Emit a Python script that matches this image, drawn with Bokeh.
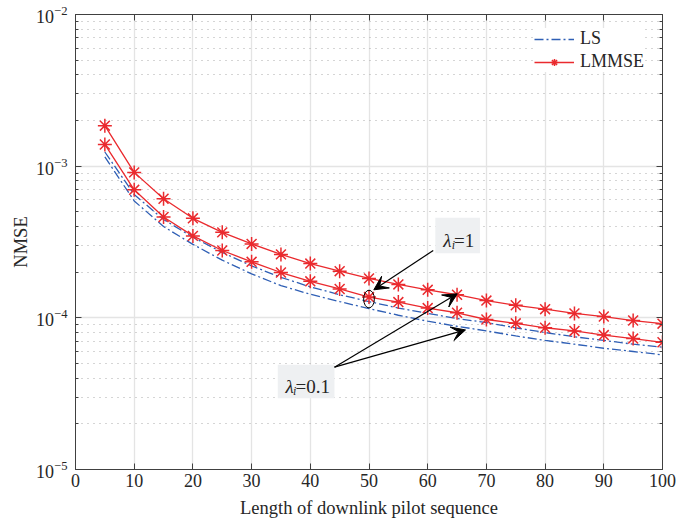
from bokeh.plotting import figure
from bokeh.models import (FixedTicker, LogAxis, LinearAxis, Legend, LegendItem,
                          Arrow, VeeHead, Label, BoxAnnotation, CustomJSTickFormatter)
from bokeh.embed import file_html
from bokeh.resources import INLINE

# ---- data ----
pilot_len = [5, 10, 15, 20, 25, 30, 35, 40, 45, 50, 55, 60, 65, 70, 75, 80, 85, 90, 95, 100]

lmmse_lam1 = [1.85e-3, 9.1e-4, 6.1e-4, 4.53e-4, 3.66e-4, 3.07e-4, 2.62e-4, 2.28e-4, 2.03e-4, 1.82e-4,
              1.66e-4, 1.53e-4, 1.42e-4, 1.30e-4, 1.21e-4, 1.14e-4, 1.07e-4, 1.02e-4, 9.6e-5, 9.15e-5]
lmmse_lam01 = [1.39e-3, 6.98e-4, 4.62e-4, 3.47e-4, 2.78e-4, 2.34e-4, 1.99e-4, 1.74e-4, 1.55e-4, 1.37e-4,
               1.27e-4, 1.16e-4, 1.08e-4, 9.75e-5, 9.2e-5, 8.6e-5, 8.2e-5, 7.7e-5, 7.3e-5, 6.9e-5]
ls_lam1 = [1.24e-3, 6.5e-4, 4.45e-4, 3.4e-4, 2.7e-4, 2.2e-4, 1.85e-4, 1.6e-4, 1.42e-4, 1.28e-4,
           1.16e-4, 1.07e-4, 9.9e-5, 9.3e-5, 8.6e-5, 8.0e-5, 7.5e-5, 7.1e-5, 6.7e-5, 6.4e-5]
ls_lam01 = [1.15e-3, 5.9e-4, 4.0e-4, 3.05e-4, 2.4e-4, 1.95e-4, 1.63e-4, 1.43e-4, 1.28e-4, 1.15e-4,
            1.04e-4, 9.5e-5, 8.8e-5, 8.2e-5, 7.6e-5, 7.1e-5, 6.7e-5, 6.3e-5, 6.0e-5, 5.7e-5]

x_ticks = [0, 10, 20, 30, 40, 50, 60, 70, 80, 90, 100]
y_ticks = [1e-5, 1e-4, 1e-3, 1e-2]
y_minor = [m * 10.0 ** e for e in (-5, -4, -3) for m in range(2, 10)]

series_labels = ["LS", "LMMSE"]
ann_lam1 = "=1"
ann_lam01 = "=0.1"

# ---- style ----
FONT = "Liberation Serif"
BLUE = "#2f5fb5"
RED = "#ea2a2e"
DARK = "#404040"
TXT = "#262626"

p = figure(width=683, height=527, y_axis_type="log", x_range=(0, 100), y_range=(1e-5, 1e-2),
           output_backend="svg", toolbar_location=None,
           min_border_left=75, min_border_right=21, min_border_top=14, min_border_bottom=58)
p.background_fill_color = "white"
p.border_fill_color = "white"
p.outline_line_color = DARK
p.outline_line_width = 1

xt = FixedTicker(ticks=x_ticks, minor_ticks=[])
yt = FixedTicker(ticks=y_ticks, minor_ticks=y_minor)
p.xaxis.ticker = xt
p.yaxis.ticker = yt

for ax in (p.xaxis[0], p.yaxis[0]):
    ax.axis_line_color = DARK
    ax.major_tick_line_color = DARK
    ax.minor_tick_line_color = DARK
    ax.major_tick_in = 6
    ax.major_tick_out = 0
    ax.minor_tick_out = 0
    ax.major_label_text_font = FONT
    ax.major_label_text_font_size = "18px"
    ax.major_label_text_color = TXT
    ax.axis_label_text_font = FONT
    ax.axis_label_text_font_size = "18.5px"
    ax.axis_label_text_font_style = "normal"
    ax.axis_label_text_color = TXT

p.xaxis.minor_tick_in = 0
p.yaxis.minor_tick_in = 3
p.xaxis.major_label_standoff = 4
p.yaxis.major_label_standoff = 8
p.xaxis.axis_label = "Length of downlink pilot sequence"
p.yaxis.axis_label = "NMSE"
p.xaxis.axis_label_standoff = 8
p.yaxis.axis_label_standoff = 2

right_ax = LogAxis(ticker=yt, formatter=CustomJSTickFormatter(code="return ''"), major_label_standoff=0,
                   major_label_text_font_size="0px",
                   axis_line_color=DARK, major_tick_line_color=DARK, minor_tick_line_color=DARK,
                   major_tick_in=6, major_tick_out=0, minor_tick_in=3, minor_tick_out=0)
top_ax = LinearAxis(ticker=xt, formatter=CustomJSTickFormatter(code="return ''"), major_label_standoff=0,
                    major_label_text_font_size="0px",
                    axis_line_color=DARK, major_tick_line_color=DARK,
                    major_tick_in=6, major_tick_out=0, minor_tick_in=0, minor_tick_out=0)
p.add_layout(right_ax, "right")
p.add_layout(top_ax, "above")

p.xgrid.grid_line_color = "#e4e4e4"
p.xgrid.grid_line_width = 1.3
p.ygrid.grid_line_color = "#e4e4e4"
p.ygrid.grid_line_width = 1.3
p.ygrid.minor_grid_line_color = "#aaaaaa"
p.ygrid.minor_grid_line_dash = "1 5"
p.ygrid.minor_grid_line_width = 1.2

# ---- series ----
r_ls1 = p.line(pilot_len, ls_lam1, line_color=BLUE, line_width=1.3, line_dash="9 3 2 3")
p.line(pilot_len, ls_lam01, line_color=BLUE, line_width=1.3, line_dash="9 3 2 3")
r_lm_line = p.line(pilot_len, lmmse_lam1, line_color=RED, line_width=1.3)
r_lm_pts = p.scatter(pilot_len, lmmse_lam1, marker="asterisk", size=14, line_color=RED, line_width=1.5)
p.line(pilot_len, lmmse_lam01, line_color=RED, line_width=1.3)
p.scatter(pilot_len, lmmse_lam01, marker="asterisk", size=14, line_color=RED, line_width=1.5)

legend = Legend(items=[LegendItem(label=series_labels[0], renderers=[r_ls1]),
                       LegendItem(label=series_labels[1], renderers=[r_lm_line, r_lm_pts])],
                location=(459, 397))
legend.label_text_font = FONT
legend.label_text_font_size = "18px"
legend.label_text_color = TXT
legend.glyph_width = 40
legend.glyph_height = 18
legend.label_height = 18
legend.label_standoff = 6
legend.spacing = 2
legend.padding = 6
legend.margin = 0
legend.border_line_color = None
legend.background_fill_alpha = 1
p.add_layout(legend)

# ---- annotations ----
BOXC = "#eef0f2"
p.add_layout(BoxAnnotation(left=61.3, right=68.9, bottom=2.67e-4, top=4.57e-4,
                           fill_color=BOXC, fill_alpha=1, line_color=None))
p.add_layout(BoxAnnotation(left=34.46, right=44.12, bottom=2.95e-5, top=4.90e-5,
                           fill_color=BOXC, fill_alpha=1, line_color=None))

def lam_label(xl, xs, xr, yb, ys, rest):
    p.add_layout(Label(x=xl, y=yb, text="λ", text_font=FONT, text_font_style="italic",
                       text_font_size="19px", text_color=TXT, text_baseline="alphabetic"))
    p.add_layout(Label(x=xs, y=ys, text="i", text_font=FONT, text_font_style="italic",
                       text_font_size="12px", text_color=TXT, text_baseline="alphabetic"))
    p.add_layout(Label(x=xr, y=yb, text=rest, text_font=FONT,
                       text_font_size="19px", text_color=TXT, text_baseline="alphabetic"))

lam_label(62.64, 64.10, 64.48, 3.22e-4, 3.04e-4, ann_lam1)
lam_label(35.78, 37.05, 37.48, 3.51e-5, 3.30e-5, ann_lam01)

def arrow(xs, ys, xe, ye):
    p.add_layout(Arrow(end=VeeHead(size=14, fill_color="black", line_color="black", line_width=1),
                       x_start=xs, y_start=ys, x_end=xe, y_end=ye,
                       line_color="black", line_width=1.2))

arrow(60.94, 2.78e-4, 50.82, 1.53e-4)
arrow(44.12, 4.73e-5, 65.03, 1.44e-4)
arrow(44.12, 4.73e-5, 66.44, 8.32e-5)

p.ellipse(x=[50], y=[1.33e-4], width=10.7, height=17.7, width_units="screen", height_units="screen",
          fill_color=None, line_color="black", line_width=1)

open("out.html", "w").write(file_html(p, INLINE))
